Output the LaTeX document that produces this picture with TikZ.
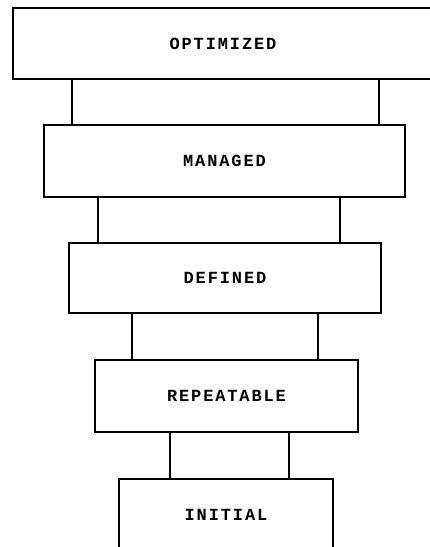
\documentclass[tikz,border=0pt]{standalone}
\usepackage{fontspec}
\newfontfamily\lblfont[LetterSpace=11]{Liberation Mono}
\begin{document}
\begin{tikzpicture}[x=1pt,y=-1pt,
  level/.style={draw,line width=1.4pt,rectangle,inner sep=0pt,
    font=\lblfont\bfseries\fontsize{17}{17}\selectfont},
  link/.style={line width=1.8pt}]
\useasboundingbox (0,0) rectangle (430,547);
\clip (0,0) rectangle (430,547);
\node[level,minimum width=420pt,minimum height=71pt] (o) at (223,43.5) {OPTIMIZED};
\node[level,minimum width=361pt,minimum height=72pt] (m) at (224.5,161) {MANAGED};
\node[level,minimum width=312pt,minimum height=70pt] (d) at (225,278) {DEFINED};
\node[level,minimum width=263pt,minimum height=72pt] (r) at (226.5,396) {REPEATABLE};
\node[level,minimum width=214pt,minimum height=72pt] (i) at (226,515) {INITIAL};
\draw[link] ([xshift=60pt]o.south west) -- ([xshift=60pt]o.south west |- m.north);
\draw[link] ([xshift=367pt]o.south west) -- ([xshift=367pt]o.south west |- m.north);
\draw[link] ([xshift=55pt]m.south west) -- ([xshift=55pt]m.south west |- d.north);
\draw[link] ([xshift=297pt]m.south west) -- ([xshift=297pt]m.south west |- d.north);
\draw[link] ([xshift=64pt]d.south west) -- ([xshift=64pt]d.south west |- r.north);
\draw[link] ([xshift=250pt]d.south west) -- ([xshift=250pt]d.south west |- r.north);
\draw[link] ([xshift=76pt]r.south west) -- ([xshift=76pt]r.south west |- i.north);
\draw[link] ([xshift=195pt]r.south west) -- ([xshift=195pt]r.south west |- i.north);
\end{tikzpicture}
\end{document}
